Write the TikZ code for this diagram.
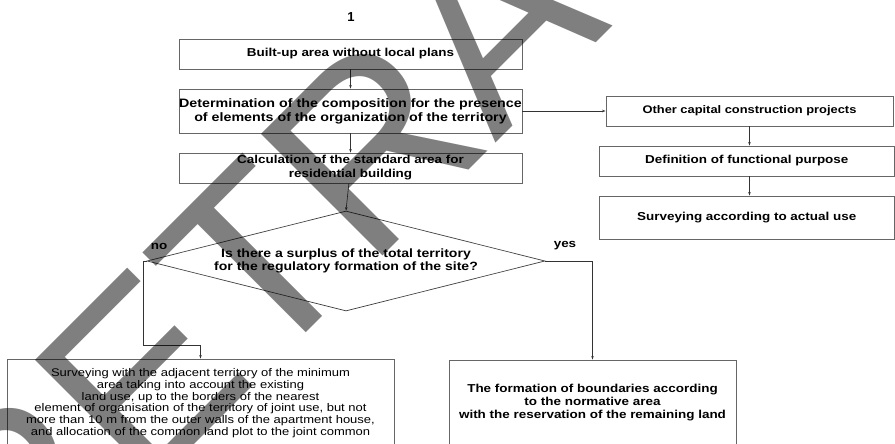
\documentclass[tikz,border=0pt]{standalone}
\usepackage{fontspec}
\setmainfont{Liberation Sans}
\newfontfamily\wfont[FakeStretch=1.17]{Liberation Sans}
\usetikzlibrary{arrows.meta,shapes.geometric}
\begin{document}
\begin{tikzpicture}[x=1pt,y=-1pt,
  box/.style={draw=black!60, line width=0.9pt, inner sep=0pt, align=center,
    font=\wfont\bfseries\fontsize{11.5}{14}\selectfont},
  box4/.style={draw=black!60, line width=0.9pt, inner sep=0pt, align=center,
    font=\wfont\fontsize{11.1}{11.7}\selectfont},
  conn/.style={draw=black!80, line width=0.6pt},
  arr/.style={conn, -{Stealth[length=3.5pt,width=2.5pt]}},
  lbl/.style={font=\wfont\bfseries\fontsize{11.5}{13}\selectfont, inner sep=0pt},
  wmark/.style={font=\fontsize{250}{250}\selectfont, text=black, opacity=0.5,
    rotate=45, anchor=base west, inner sep=0pt}]
\useasboundingbox (0,0) rectangle (895,444);
\clip (0,0) rectangle (895,444);

\node[font=\bfseries\fontsize{13}{15}\selectfont, inner sep=0pt] (title) at (351,17) {1};
\node[box, minimum width=343pt, minimum height=30pt] (b1) at (350.5,54) {Built-up area without local plans};
\node[box, minimum width=343pt, minimum height=44pt, font=\wfont\bfseries\fontsize{12.2}{14}\selectfont] (b2) at (350.5,111)
  {Determination of the composition for the presence\\of elements of the organization of the territory};
\node[box, minimum width=343pt, minimum height=30pt] (b3) at (350.5,168)
  {Calculation of the standard area for\\residential building};
\node[diamond, draw=black!75, line width=0.7pt, aspect=4, inner sep=0pt, align=center,
  minimum width=398pt, minimum height=100pt,
  font=\wfont\bfseries\fontsize{12}{13}\selectfont] (d) at (346,261)
  {Is there a surplus of the total territory\\for the regulatory formation of the site?};

\node[box, minimum width=287pt, minimum height=30pt, font=\wfont\bfseries\fontsize{11}{13}\selectfont] (b6) at (749.5,111) {Other capital construction projects};
\node[box, minimum width=295.5pt, minimum height=30pt] (b7) at (746.75,161) {Definition of functional purpose};
\node[box, minimum width=295.5pt, minimum height=43pt] (b8) at (746.75,217.5) {Surveying according to actual use};

\node[box4, minimum width=387pt, minimum height=88pt] (b4) at (200.5,403)
  {Surveying with the adjacent territory of the minimum\\
   area taking into account the existing\\
   land use, up to the borders of the nearest\\
   element of organisation of the territory of joint use, but not\\
   more than 10 m from the outer walls of the apartment house,\\
   and allocation of the common land plot to the joint common};
\node[box, minimum width=287pt, minimum height=86pt, font=\wfont\bfseries\fontsize{11.5}{13}\selectfont] (b5) at (592.5,403)
  {The formation of boundaries according\\to the normative area\\with the reservation of the remaining land};

\node[lbl] (no) at (159,246) {no};
\node[lbl] (yes) at (565,246) {yes};

\coordinate (lturn) at (143,345);
\draw[arr] (b1) -- (b2);
\draw[arr] (b2) -- (b3);
\draw[arr] (b3) -- (d.north);
\draw[arr] (b2.east) -- (b6.west);
\draw[arr] (b6.south) -- (b6.south |- b7.north);
\draw[arr] (b6.south |- b7.south) -- (b6.south |- b8.north);
\draw[arr] (d.west) -- (d.west -| lturn) -- (lturn) -| (b4.north);
\draw[arr] (d.east) -| (b5.north);

\node[wmark] (wm) at (14.5,624.6) {RETRACTED};
\end{tikzpicture}
\end{document}
